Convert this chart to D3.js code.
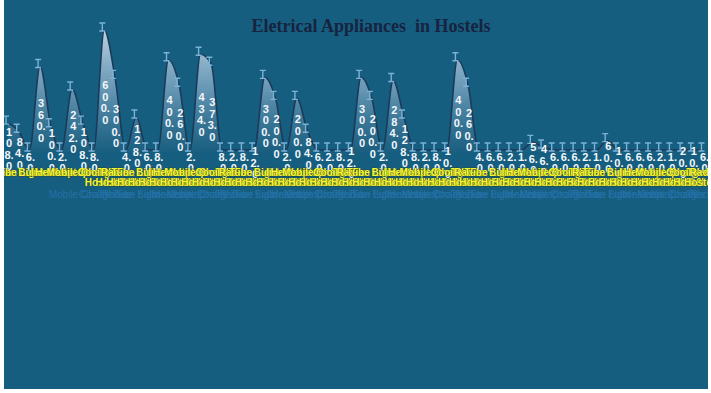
<!DOCTYPE html>
<html>
<head>
<meta charset="utf-8">
<script src="https://cdn.jsdelivr.net/npm/d3@7"></script>
<style>
  html, body { margin: 0; padding: 0; background: #ffffff; }
  #chart { position: absolute; left: 4px; top: 0px; }
  text { font-family: "Liberation Sans", Arial, sans-serif; }
</style>
</head>
<body>
<div id="chart"></div>
<script>
// Hostels and the appliances counted in each one
const hostels = ["Hostel 1", "Hostel 2", "Hostel 3", "Hostel 4", "Hostel 5", "Hostel 6"];
const appliances = ["Fan", "Tube Light", "Bulb", "Iron", "Heater", "Kettle",
                    "Laptop", "Mobile Charger", "Cooler", "TV", "Radio"];

// Number of units per hostel / appliance, in hostel order
const values = [
  108, 84, 6, 360, 100, 2, 242, 108, 8, 600, 300,
  4, 128, 6, 8, 400, 260, 2, 434, 373, 8, 2,
  8, 12, 300, 200, 2, 200, 84, 6, 2, 8, 12,
  300, 200, 2, 284, 128, 8, 2, 8, 10, 400, 260,
  4, 6, 6, 2, 1, 56, 46, 6, 6, 6, 2,
  1, 60, 10, 6, 6, 6, 2, 1, 20, 10, 6
];

const titleText = "Eletrical Appliances  in Hostels";

// One row per point: hostel, appliance, value
const rows = [];
hostels.forEach((h, hi) => appliances.forEach((a, ai) => {
  const i = hi * appliances.length + ai;
  rows.push({ id: i, hostel: h, appliance: a, value: values[i] });
}));

const W = 704, H = 389;
const plotTop = 30, plotBottom = 150;

const svg = d3.select("#chart").append("svg")
  .attr("width", W).attr("height", H);

svg.append("rect").attr("width", W).attr("height", H).attr("fill", "#165e80");

svg.append("text")
  .attr("x", 367).attr("y", 32)
  .attr("text-anchor", "middle")
  .style("font-family", "'Liberation Serif', 'Times New Roman', serif")
  .style("font-weight", "bold")
  .style("font-size", "18px")
  .style("white-space", "pre")
  .attr("fill", "#17233f")
  .text(titleText);

const x = d3.scalePoint()
  .domain(rows.map(d => d.id))
  .range([4, 4 + 10.7 * (rows.length - 1)]);

const y = d3.scaleSqrt()
  .domain([40, 600])
  .range([plotBottom, plotTop])
  .clamp(true);

const defs = svg.append("defs");
const grad = defs.append("linearGradient")
  .attr("id", "areaFill")
  .attr("gradientUnits", "userSpaceOnUse")
  .attr("x1", 0).attr("x2", 0).attr("y1", plotTop).attr("y2", plotBottom + 2);
grad.append("stop").attr("offset", "0%").attr("stop-color", "#c4d7e6").attr("stop-opacity", 0.95);
grad.append("stop").attr("offset", "50%").attr("stop-color", "#77a3c0").attr("stop-opacity", 0.8);
grad.append("stop").attr("offset", "100%").attr("stop-color", "#1d5f80").attr("stop-opacity", 0.6);

const area = d3.area()
  .x(d => x(d.id))
  .y0(plotBottom + 2)
  .y1(d => y(d.value))
  .curve(d3.curveMonotoneX);

const line = d3.line()
  .x(d => x(d.id))
  .y(d => y(d.value))
  .curve(d3.curveMonotoneX);

svg.append("path").datum(rows)
  .attr("d", area)
  .attr("fill", "url(#areaFill)");

svg.append("path").datum(rows)
  .attr("d", line)
  .attr("fill", "none")
  .attr("stroke", "#1b3b58")
  .attr("stroke-width", 1.6);

// "I" markers on every point
const marks = svg.append("g").attr("stroke", "#7ab2d8").attr("stroke-width", 1.4).attr("fill", "none");
rows.forEach(d => {
  const cx = x(d.id) - 2, cy = y(d.value) - 3;
  marks.append("path")
    .attr("d", `M${cx - 3},${cy - 4}H${cx + 3}M${cx},${cy - 4}V${cy + 4}M${cx - 3},${cy + 4}H${cx + 3}`);
});

// Value labels, broken one digit per line, centred in the column under the point
const fmt = d3.format(".1f");
const lineH = 11.5;
const labels = svg.append("g")
  .attr("fill", "#f4f8fc")
  .style("font-size", "11px")
  .style("font-weight", "bold")
  .attr("text-anchor", "middle");
rows.forEach(d => {
  const parts = fmt(d.value).match(/\d\.?/g);
  const mid = (y(d.value) + 175) / 2;
  const t = labels.append("text").attr("x", x(d.id) + 1);
  parts.forEach((p, k) => {
    t.append("tspan")
      .attr("x", x(d.id) + 1)
      .attr("y", mid + (k - (parts.length - 1) / 2) * lineH + 4)
      .text(p);
  });
});

// Category axis: appliance names on the first row, hostel names staggered below
const axisG = svg.append("g")
  .style("font-size", "10px")
  .style("font-weight", "bold")
  .attr("text-anchor", "middle");

axisG.selectAll("text.app").data(rows).join("text")
  .attr("class", "app")
  .attr("x", d => x(d.id))
  .attr("y", 176)
  .attr("fill", "#f6f636")
  .attr("stroke", "#2a3e14")
  .attr("stroke-width", 0.5)
  .style("paint-order", "stroke")
  .text(d => d.appliance);

axisG.selectAll("text.host").data(rows.filter(r => r.id >= 9)).join("text")
  .attr("class", "host")
  .attr("x", d => x(d.id))
  .attr("y", 186)
  .attr("fill", "#f6f636")
  .attr("stroke", "#2a3e14")
  .attr("stroke-width", 0.5)
  .style("paint-order", "stroke")
  .text(d => d.hostel);

axisG.selectAll("text.faint").data(rows.filter(r => r.id >= 7)).join("text")
  .attr("class", "faint")
  .attr("x", d => x(d.id))
  .attr("y", 198)
  .attr("fill", "#2470a6")
  .style("font-weight", "normal")
  .text(d => d.appliance);
</script>
</body>
</html>
